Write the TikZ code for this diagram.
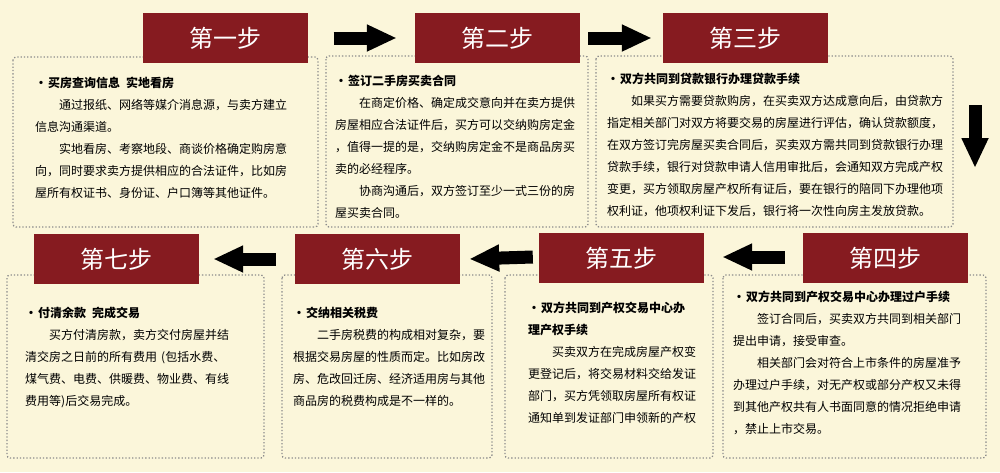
\documentclass[tikz,border=0pt]{standalone}
\usepackage{fontspec}
\newfontfamily\cjk{Noto Sans CJK SC}
\usetikzlibrary{arrows.meta}
\definecolor{paper}{RGB}{251,246,218}
\definecolor{titlered}{RGB}{134,27,32}
\definecolor{dotline}{RGB}{140,140,140}
\newcommand{\stephead}[1]{\makebox[13pt][l]{\textbf{·}}\textbf{#1}}

\begin{document}
\begin{tikzpicture}[x=1pt, y=-1pt,
	steptitle/.style={fill=titlered, text=white, minimum width=165pt, minimum height=50pt, inner sep=0pt, font=\cjk\fontsize{24}{24}\selectfont},
	stepbox/.style={draw=dotline, line width=1.3pt, dotted, rounded corners=3pt},
	steptext/.style={anchor=north west, inner sep=0pt, text width=340pt, align=left, font=\cjk\fontsize{12}{22}\selectfont},
	stepjump/.style={line width=13pt, -{Triangle[width=25pt,length=30pt]}, black}]
			%%%%% START %%%%%
			
			\useasboundingbox (0, 0) rectangle (1000, 472);
			\fill[paper] (0, 0) rectangle (1000, 472);
			
			\draw[stepbox] (13, 57) rectangle (318, 227);
			\draw[stepbox] (326, 56) rectangle (588, 227);
			\draw[stepbox] (596, 56) rectangle (953, 227);
			\draw[stepbox] (723, 275) rectangle (986, 458);
			\draw[stepbox] (505, 275) rectangle (713, 458);
			\draw[stepbox] (282, 275) rectangle (492, 458);
			\draw[stepbox] (7, 275) rectangle (264, 458);
			
			\node[steptitle] (t1) at (225, 38) {第一步};
			\node[steptitle] (t2) at (497.5, 38) {第二步};
			\node[steptitle] (t3) at (745.5, 38) {第三步};
			\node[steptitle] (t4) at (885.5, 258) {第四步};
			\node[steptitle] (t5) at (621.5, 258) {第五步};
			\node[steptitle] (t6) at (377.5, 259) {第六步};
			\node[steptitle] (t7) at (116.5, 259) {第七步};
			
			\node[steptext] (s1) at (35, 77) {\stephead{买房查询信息\hspace{6pt}实地看房}\\
				\hspace*{2em}通过报纸、网络等媒介消息源，与卖方建立\\
				信息沟通渠道。\\
				\hspace*{2em}实地看房、考察地段、商谈价格确定购房意\\
				向，同时要求卖方提供相应的合法证件，比如房\\
				屋所有权证书、身份证、户口簿等其他证件。};
			
			\node[steptext] (s2) at (335, 75) {\stephead{签订二手房买卖合同}\\
				\hspace*{2em}在商定价格、确定成交意向并在卖方提供\\
				房屋相应合法证件后，买方可以交纳购房定金\\
				，值得一提的是，交纳购房定金不是商品房买\\
				卖的必经程序。\\
				\hspace*{2em}协商沟通后，双方签订至少一式三份的房\\
				屋买卖合同。};
			
			\node[steptext] (s3) at (607, 73) {\stephead{双方共同到贷款银行办理贷款手续}\\
				\hspace*{2em}如果买方需要贷款购房，在买卖双方达成意向后，由贷款方\\
				指定相关部门对双方将要交易的房屋进行评估，确认贷款额度，\\
				在双方签订完房屋买卖合同后，买卖双方需共同到贷款银行办理\\
				贷款手续，银行对贷款申请人信用审批后，会通知双方完成产权\\
				变更，买方领取房屋产权所有证后，要在银行的陪同下办理他项\\
				权利证，他项权利证下发后，银行将一次性向房主发放贷款。};
			
			\node[steptext] (s4) at (733, 291) {\stephead{双方共同到产权交易中心办理过户手续}\\
				\hspace*{2em}签订合同后，买卖双方共同到相关部门\\
				提出申请，接受审查。\\
				\hspace*{2em}相关部门会对符合上市条件的房屋准予\\
				办理过户手续，对无产权或部分产权又未得\\
				到其他产权共有人书面同意的情况拒绝申请\\
				，禁止上市交易。};
			
			\node[steptext] (s5) at (528, 302) {\stephead{双方共同到产权交易中心办}\\
				\textbf{理产权手续}\\
				\hspace*{2em}买卖双方在完成房屋产权变\\
				更登记后，将交易材料交给发证\\
				部门，买方凭领取房屋所有权证\\
				通知单到发证部门申领新的产权};
			
			\node[steptext] (s6) at (293, 307) {\stephead{交纳相关税费}\\
				\hspace*{2em}二手房税费的构成相对复杂，要\\
				根据交易房屋的性质而定。比如房改\\
				房、危改回迁房、经济适用房与其他\\
				商品房的税费构成是不一样的。};
			
			\node[steptext] (s7) at (25, 307) {\stephead{付清余款\hspace{6pt}完成交易}\\
				\hspace*{2em}买方付清房款，卖方交付房屋并结\\
				清交房之日前的所有费用 (包括水费、\\
				煤气费、电费、供暖费、物业费、有线\\
				费用等)后交易完成。};
			
			\coordinate (d1) at (975, 105);
			\coordinate (d2) at (975, 168);
			
			\draw[stepjump] ([xshift=26pt]t1.east) -- ([xshift=-18pt]t2.west);
			\draw[stepjump] ([xshift=8pt]t2.east) -- ([xshift=-11pt]t3.west);
			\draw[stepjump] (d1) -- (d2);
			\draw[stepjump] ([xshift=-18pt, yshift=1pt]t4.west) -- ([xshift=18pt, yshift=1pt]t5.east);
			\draw[stepjump] ([xshift=-6pt, yshift=1pt]t5.west) -- ([xshift=9pt]t6.east);
			\draw[stepjump] ([xshift=-19pt]t6.west) -- ([xshift=14pt]t7.east);
			
			%%%%% END %%%%%
\end{tikzpicture}
\end{document}
